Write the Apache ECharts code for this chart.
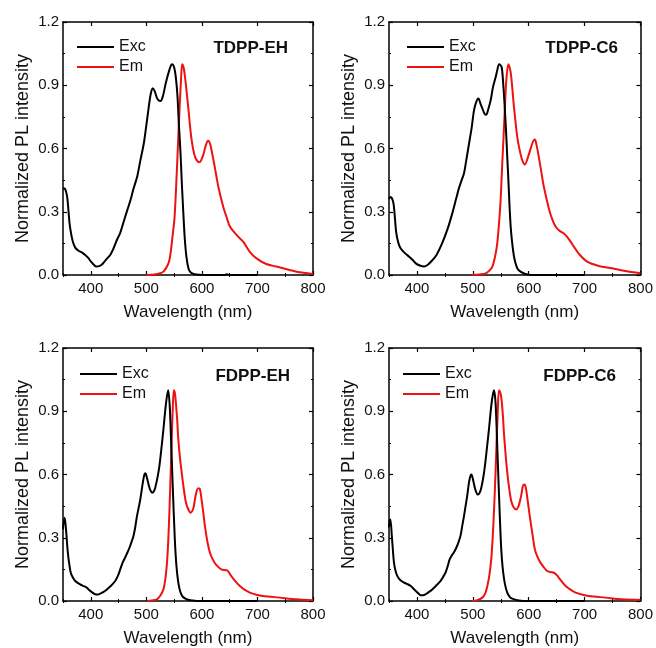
<!DOCTYPE html>
<html><head><meta charset="utf-8">
<script src="https://cdn.jsdelivr.net/npm/echarts@6/dist/echarts.min.js"></script>
<style>html,body{margin:0;padding:0;background:#fff}#c{width:656px;height:648px}</style>
</head><body><div id="c"></div>
<script>
// Panel titles
const panelTitles = ['TDPP-EH', 'TDPP-C6', 'FDPP-EH', 'FDPP-C6'];
const legendNames = ['Exc', 'Em'];
const xTickLabels = [400, 500, 600, 700, 800];
const xMinorTicks = [350, 450, 550, 650, 750];
const yTickLabels = [0, 0.3, 0.6, 0.9, 1.2];
const yMinorTicks = [0.15, 0.45, 0.75, 1.05];

// [wavelength nm, normalized intensity]
const tdppEhExc = [[350,0.41],[353,0.41],[356,0.39],[358,0.36],[360,0.30],[362,0.24],[365,0.19],[368,0.155],[372,0.13],[378,0.115],[385,0.105],[390,0.095],[395,0.082],[400,0.065],[405,0.05],[410,0.04],[415,0.042],[420,0.05],[425,0.065],[430,0.08],[435,0.095],[440,0.12],[447,0.166],[453,0.2],[460,0.26],[466,0.31],[471.5,0.356],[477,0.41],[483.5,0.466],[489,0.54],[495.5,0.625],[500,0.71],[504.5,0.80],[508,0.86],[511.6,0.886],[515,0.872],[520,0.835],[525.5,0.825],[530,0.85],[535,0.91],[540,0.96],[544,0.992],[546.5,1.0],[550,0.985],[553,0.94],[556,0.85],[558.5,0.72],[561.5,0.58],[564,0.43],[566.5,0.30],[569,0.18],[572,0.09],[576,0.03],[580,0.012],[585,0.005],[590,0.002],[600,0.0],[640,0.0],[645,0.003],[650,0.0],[700,0.0]];
const tdppEhEm = [[500,0.0],[515,0.002],[525,0.008],[530.7,0.016],[536,0.035],[540.5,0.06],[544,0.11],[547,0.18],[550.7,0.27],[554,0.44],[557,0.62],[560,0.80],[562.5,0.93],[564.5,1.0],[567,0.985],[569.6,0.94],[572.5,0.87],[575.6,0.79],[581,0.65],[586,0.575],[590.6,0.545],[595.7,0.535],[602.5,0.57],[607,0.615],[611.3,0.637],[615,0.62],[619,0.57],[624,0.50],[629.5,0.42],[638.4,0.324],[645,0.27],[650.4,0.23],[662.4,0.19],[674.3,0.158],[686.3,0.11],[698.3,0.079],[716,0.052],[734,0.04],[758,0.024],[776,0.013],[800,0.005]];
const tdppC6Exc = [[350,0.36],[352,0.37],[355,0.365],[358,0.34],[360,0.29],[363,0.20],[367,0.15],[371,0.126],[378,0.105],[386,0.087],[392,0.072],[398,0.055],[405,0.045],[412.6,0.04],[420,0.05],[427.5,0.07],[435,0.095],[445,0.15],[455,0.22],[463,0.29],[470,0.36],[475,0.41],[480,0.45],[484,0.48],[488,0.54],[493,0.62],[498,0.70],[502,0.78],[506,0.82],[510,0.837],[514,0.81],[517,0.79],[521,0.765],[524,0.76],[528,0.79],[532,0.83],[536,0.89],[541,0.94],[544,0.975],[547,1.0],[551.5,0.987],[554,0.92],[557,0.80],[559.5,0.68],[561.6,0.56],[564,0.43],[565.8,0.32],[568,0.22],[570.5,0.15],[573.5,0.09],[576.5,0.055],[580,0.03],[585.4,0.016],[594,0.005],[605,0.0],[700,0.0]];
const tdppC6Em = [[499,0.0],[512,0.003],[523,0.008],[530,0.022],[535,0.04],[540,0.09],[543.7,0.15],[547,0.25],[549.7,0.355],[552.5,0.52],[555.6,0.69],[558,0.83],[559.8,0.92],[563.4,1.0],[567.5,0.964],[570.5,0.89],[573.5,0.80],[579.5,0.655],[584,0.59],[588.4,0.545],[593,0.524],[600,0.57],[607.5,0.632],[611,0.643],[614.5,0.61],[618,0.56],[622.5,0.49],[627,0.42],[636,0.316],[642,0.265],[648,0.23],[655,0.21],[663,0.197],[669,0.18],[675,0.158],[682,0.13],[690,0.10],[704.6,0.063],[725.5,0.043],[749,0.032],[773,0.019],[800,0.008]];
const fdppEhExc = [[350,0.34],[351,0.37],[353,0.395],[356,0.32],[358,0.25],[360,0.20],[364,0.134],[368,0.11],[372,0.095],[380,0.08],[387,0.071],[392,0.065],[396,0.055],[402,0.042],[408,0.032],[413,0.031],[417,0.035],[423,0.043],[429,0.055],[435.5,0.07],[444,0.095],[449,0.12],[453,0.15],[457,0.18],[462.5,0.21],[466,0.23],[470,0.255],[474,0.285],[477,0.31],[480,0.35],[483,0.40],[486,0.44],[489,0.48],[493.6,0.56],[496.5,0.60],[498.5,0.606],[501,0.585],[504,0.553],[507,0.527],[510.5,0.514],[513.5,0.52],[516,0.537],[520,0.585],[523.5,0.64],[527,0.72],[530.7,0.813],[535.5,0.94],[539.3,1.0],[542,0.93],[544.5,0.766],[547.5,0.545],[551.3,0.29],[553.5,0.19],[555.5,0.13],[558,0.08],[561,0.045],[565,0.022],[569.6,0.012],[575,0.006],[581.6,0.003],[590,0.0],[700,0.0]];
const fdppEhEm = [[501,0.0],[510,0.003],[519,0.008],[525,0.025],[530.7,0.055],[534,0.10],[536.7,0.166],[539,0.26],[541.5,0.42],[543.6,0.59],[545.7,0.766],[547.8,0.93],[549.5,1.0],[551.5,0.985],[553.5,0.93],[555.5,0.86],[557.6,0.766],[560.5,0.68],[563.6,0.61],[567.5,0.53],[571.4,0.466],[575.5,0.435],[579.5,0.419],[584.6,0.44],[588,0.49],[591,0.525],[594,0.535],[596.5,0.53],[599.5,0.48],[602.5,0.42],[605.5,0.355],[610,0.28],[614.5,0.229],[620,0.195],[625,0.174],[635,0.15],[645.5,0.145],[650,0.13],[656.4,0.106],[662,0.088],[668.4,0.071],[676,0.055],[686.3,0.04],[698,0.03],[710,0.024],[740,0.016],[770,0.008],[800,0.003]];
const fdppC6Exc = [[350,0.35],[351,0.38],[352.5,0.387],[355,0.31],[357,0.24],[359,0.18],[362,0.14],[365,0.118],[370,0.1],[377,0.087],[383,0.08],[389,0.071],[394,0.058],[398,0.047],[403,0.035],[407,0.027],[411,0.027],[415.6,0.032],[421,0.042],[427.5,0.055],[435,0.075],[442.4,0.095],[447,0.115],[451,0.134],[455,0.165],[458.5,0.197],[462,0.215],[466,0.23],[470,0.25],[474,0.276],[478,0.31],[481,0.355],[484,0.40],[487,0.45],[490,0.50],[493,0.56],[495.5,0.592],[497.5,0.6],[500,0.58],[502.6,0.548],[505.5,0.52],[508.5,0.505],[511.5,0.51],[514.5,0.53],[518,0.575],[521.6,0.64],[525,0.72],[528.8,0.813],[533.6,0.94],[537.7,1.0],[540.7,0.94],[543.7,0.734],[546.7,0.513],[550,0.29],[552,0.2],[554.4,0.134],[557.5,0.08],[561.6,0.04],[566,0.02],[570.5,0.011],[582,0.002],[590,0.0],[700,0.0]];
const fdppC6Em = [[499,0.0],[508,0.004],[517,0.016],[522,0.035],[526,0.071],[530,0.13],[533,0.2],[535.5,0.30],[538,0.434],[540.5,0.60],[542.5,0.75],[544.5,0.89],[546.7,1.0],[549,0.99],[551,0.963],[553.5,0.89],[555.6,0.80],[558.5,0.70],[561.6,0.61],[565,0.535],[568.7,0.474],[573,0.445],[577.7,0.434],[581,0.445],[583.6,0.466],[586.5,0.50],[589.6,0.545],[592.6,0.553],[595,0.535],[596.7,0.505],[599.5,0.45],[602.7,0.387],[606.5,0.32],[611,0.245],[615.5,0.21],[621,0.182],[627,0.16],[633,0.142],[639,0.137],[645,0.134],[650,0.124],[654,0.11],[660,0.09],[666,0.071],[674,0.055],[683.8,0.04],[695,0.031],[707.6,0.024],[737.4,0.016],[767,0.008],[800,0.005]];

const panelData = [[tdppEhExc, tdppEhEm],[tdppC6Exc, tdppC6Em],[fdppEhExc, fdppEhEm],[fdppC6Exc, fdppC6Em]];

const FONT = "'Liberation Sans', Arial, Helvetica, sans-serif";
const RED = '#ee1111';
const grids = [
  {left: 63, top: 22, width: 250, height: 253},
  {left: 389, top: 22, width: 252, height: 253},
  {left: 63, top: 348, width: 250, height: 253},
  {left: 389, top: 348, width: 252, height: 253}
];
const legendPos = [{left: 77, top: 39}, {left: 407, top: 39}, {left: 80, top: 366}, {left: 403, top: 366}];
const titlePos = [{right: 368, top: 40}, {right: 38, top: 40}, {right: 366, top: 368}, {right: 40, top: 368}];

const xAxes = [], yAxes = [], series = [], legends = [], titles = [];
const lineCol = '#000';
function axisBase(gi, type, pos, extra) {
  return Object.assign({
    type: 'value', gridIndex: gi, position: pos,
    splitLine: {show: false},
    axisLine: {show: true, onZero: false, lineStyle: {color: lineCol, width: 1.5}},
    axisLabel: {show: false},
    axisTick: {show: true, inside: true, length: 4, lineStyle: {color: lineCol, width: 1.2}}
  }, type === 'x' ? {min: 350, max: 800} : {min: 0, max: 1.2}, extra || {});
}
grids.forEach((g, gi) => {
  const xi = xAxes.length, yi = yAxes.length;
  xAxes.push(axisBase(gi, 'x', 'bottom', {
    name: 'Wavelength (nm)', nameLocation: 'middle', nameGap: 29,
    nameTextStyle: {fontSize: 17, color: '#111', fontFamily: FONT},
    axisLabel: {show: true, customValues: xTickLabels, margin: 6, fontSize: 15, color: '#111', fontFamily: FONT},
    axisTick: {show: true, inside: true, length: 4, customValues: xTickLabels, lineStyle: {color: lineCol, width: 1.2}}
  }));
  xAxes.push(axisBase(gi, 'x', 'top', {
    axisTick: {show: true, inside: true, length: 4, customValues: xTickLabels, lineStyle: {color: lineCol, width: 1.2}}
  }));
  xAxes.push(axisBase(gi, 'x', 'bottom', {axisLine: {show: false},
    axisTick: {show: true, inside: true, length: 2, customValues: xMinorTicks, lineStyle: {color: lineCol, width: 1}}}));
  xAxes.push(axisBase(gi, 'x', 'top', {axisLine: {show: false},
    axisTick: {show: true, inside: true, length: 2, customValues: xMinorTicks, lineStyle: {color: lineCol, width: 1}}}));
  yAxes.push(axisBase(gi, 'y', 'left', {
    name: 'Normalized PL intensity', nameLocation: 'middle', nameGap: 31,
    nameTextStyle: {fontSize: 18, color: '#111', fontFamily: FONT},
    axisLabel: {show: true, customValues: yTickLabels, margin: 4, fontSize: 15, color: '#111', fontFamily: FONT,
      formatter: v => Number(v).toFixed(1)},
    axisTick: {show: true, inside: true, length: 4, customValues: yTickLabels, lineStyle: {color: lineCol, width: 1.2}}
  }));
  yAxes.push(axisBase(gi, 'y', 'right', {
    axisTick: {show: true, inside: true, length: 4, customValues: yTickLabels, lineStyle: {color: lineCol, width: 1.2}}
  }));
  yAxes.push(axisBase(gi, 'y', 'left', {axisLine: {show: false},
    axisTick: {show: true, inside: true, length: 2, customValues: yMinorTicks, lineStyle: {color: lineCol, width: 1}}}));
  yAxes.push(axisBase(gi, 'y', 'right', {axisLine: {show: false},
    axisTick: {show: true, inside: true, length: 2, customValues: yMinorTicks, lineStyle: {color: lineCol, width: 1}}}));

  const [exc, em] = panelData[gi];
  series.push({type: 'line', name: legendNames[0], xAxisIndex: xi, yAxisIndex: yi, data: exc,
    symbol: 'none', smooth: 0.3, lineStyle: {color: '#000', width: 2}, itemStyle: {color: '#000'}, z: 3});
  series.push({type: 'line', name: legendNames[1], xAxisIndex: xi, yAxisIndex: yi, data: em,
    symbol: 'none', smooth: 0.3, lineStyle: {color: RED, width: 2}, itemStyle: {color: RED}, z: 2});

  legends.push(Object.assign({data: legendNames, orient: 'vertical', icon: 'rect', itemWidth: 37, itemHeight: 2, itemGap: 4,
    padding: 0, selectedMode: false, textStyle: {fontSize: 16, color: '#111', fontFamily: FONT}}, legendPos[gi]));
  titles.push(Object.assign({text: panelTitles[gi], padding: 0,
    textStyle: {fontSize: 17, fontWeight: 'bold', color: '#111', fontFamily: FONT}}, titlePos[gi]));
});

const chart = echarts.init(document.getElementById('c'), null, {renderer: 'canvas'});
chart.setOption({
  animation: false,
  backgroundColor: '#fff',
  title: titles,
  legend: legends,
  grid: grids,
  xAxis: xAxes,
  yAxis: yAxes,
  series: series
});
</script></body></html>
